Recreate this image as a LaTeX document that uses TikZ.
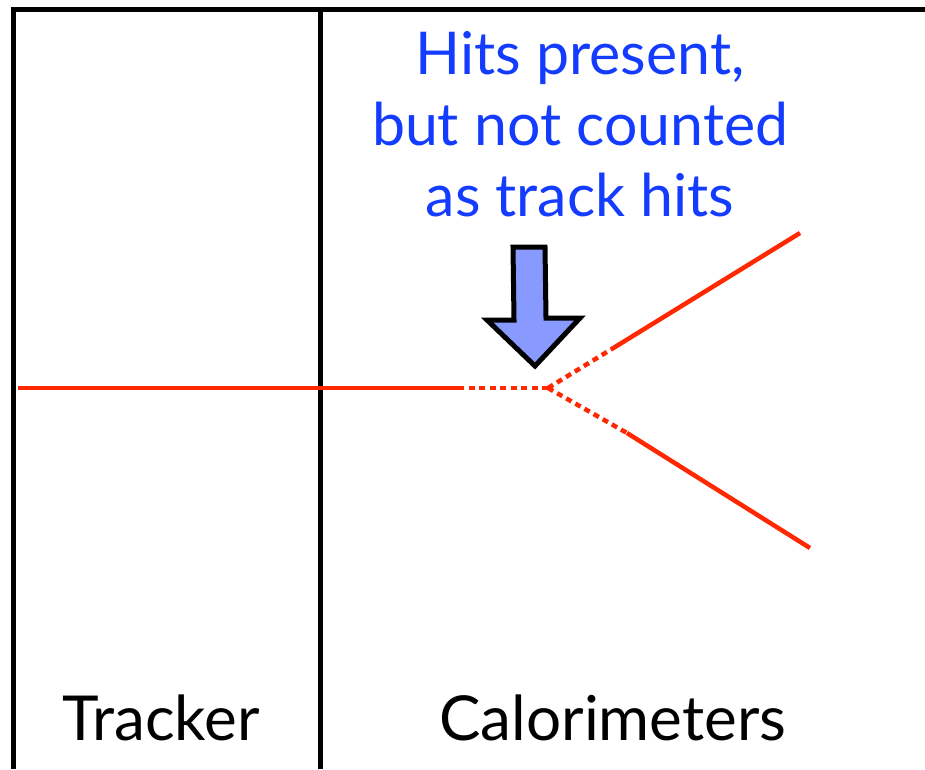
\documentclass[tikz,border=0pt]{standalone}
\usepackage{fontspec}
\setmainfont{Lato}
\usepackage{xcolor}
\definecolor{trackred}{RGB}{255,40,0}
\definecolor{notered}{RGB}{20,60,255}
\definecolor{arrowfill}{RGB}{136,153,255}
\usetikzlibrary{positioning}

\begin{document}
\begin{tikzpicture}[x=1pt,y=-1pt,
    frameline/.style={line width=5pt},
    track/.style={trackred, line width=4.5pt},
    hidden/.style={track, dash pattern=on 6pt off 4.5pt},
    label/.style={inner sep=0pt, font=\fontsize{62}{72}\selectfont},
    note/.style={inner sep=0pt, align=center, text=notered, font=\fontsize{59}{71}\selectfont}]
    \useasboundingbox (0,0) rectangle (925,769);

    % detector frame
    \coordinate (topleft) at (13.5,9.5);
    \draw[frameline] (925,9.5) -- (topleft) -- (13.5,769);
    \draw[frameline] (320,9.5) -- (320,769);

    % labels
    \node[label, anchor=base] (tracker) at (161,740) {Tracker};
    \node[label, anchor=base] (calo) at (613,740) {Calorimeters};
    \node[note, anchor=base] (note) at (580,216) {Hits present,\\but not counted\\as track hits};

    % track and shower
    \coordinate (start) at (18,388);
    \coordinate (gapA) at (458,388);
    \coordinate (vertex) at (548,388);
    \coordinate (upA) at (615,347);
    \coordinate (upEnd) at (800,233);
    \coordinate (loA) at (627,433);
    \coordinate (loEnd) at (810,548);
    \draw[track] (start) -- (gapA);
    \draw[hidden] (gapA) -- (vertex);
    \draw[hidden] (vertex) -- (upA);
    \draw[hidden] (vertex) -- (loA);
    \draw[track] (upA) -- (upEnd);
    \draw[track] (loA) -- (loEnd);

    % pointer
    \draw[line width=5pt, fill=arrowfill, line join=miter]
        (513,247) -- (545,247) -- (546,318) -- (580,318) -- (535,366) -- (487,320) -- (514,320) -- cycle;
\end{tikzpicture}
\end{document}
